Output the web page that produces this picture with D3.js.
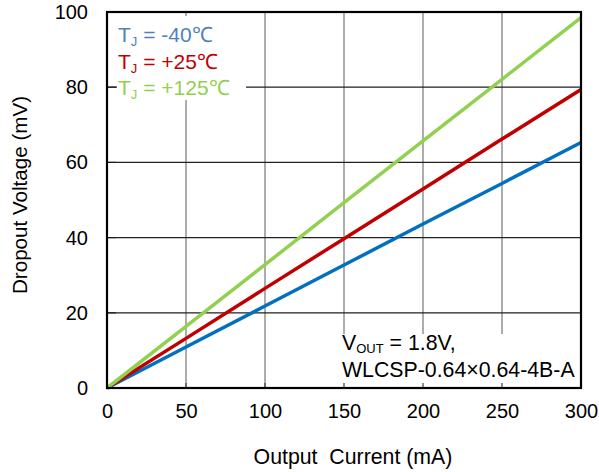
<!DOCTYPE html>
<html>
<head>
<meta charset="utf-8">
<script src="https://cdn.jsdelivr.net/npm/d3@7"></script>
<style>
body { margin: 0; background: #fff; }
text { font-family: "Liberation Sans", Arial, sans-serif; }
</style>
</head>
<body>
<div id="chart"></div>
<script>
var current = [0, 50, 100, 150, 200, 250, 300];
var vMinus40 = [0, 10.9, 21.8, 32.7, 43.6, 54.4, 65.3];
var vPlus25 = [0, 13.2, 26.5, 39.7, 52.9, 66.2, 79.4];
var vPlus125 = [0, 16.4, 32.8, 49.3, 65.7, 82.1, 98.5];
var xTicks = [0, 50, 100, 150, 200, 250, 300];
var yTicks = [0, 20, 40, 60, 80, 100];

var width = 599, height = 472;
var margin = {left: 107, right: 18, top: 12, bottom: 84};

var svg = d3.select("#chart")
  .append("svg")
  .attr("width", width)
  .attr("height", height);

var x = d3.scaleLinear().domain([0, 300]).range([margin.left, width - margin.right]);
var y = d3.scaleLinear().domain([0, 100]).range([height - margin.bottom, margin.top]);

// grid
svg.selectAll(".vgrid").data(xTicks.slice(1, -1)).enter()
  .append("line")
  .attr("x1", d => x(d)).attr("x2", d => x(d))
  .attr("y1", y(0)).attr("y2", y(100))
  .attr("stroke", "#808080").attr("stroke-width", 1.3);

svg.selectAll(".hgrid").data(yTicks.slice(1, -1)).enter()
  .append("line")
  .attr("x1", x(0)).attr("x2", x(300))
  .attr("y1", d => y(d)).attr("y2", d => y(d))
  .attr("stroke", "#202020").attr("stroke-width", 1.2);

// white boxes behind the texts
svg.append("rect").attr("x", 117).attr("y", 16).attr("width", 129).attr("height", 84).attr("fill", "#fff");
svg.append("rect").attr("x", 336).attr("y", 334).attr("width", 244).attr("height", 53).attr("fill", "#fff");

// inward tick marks
svg.selectAll(".xt").data(xTicks).enter()
  .append("line")
  .attr("x1", d => x(d)).attr("x2", d => x(d))
  .attr("y1", y(0)).attr("y2", y(0) - 5)
  .attr("stroke", "#404040").attr("stroke-width", 1.2);
svg.selectAll(".yt").data(yTicks).enter()
  .append("line")
  .attr("x1", x(0)).attr("x2", x(0) + 9)
  .attr("y1", d => y(d)).attr("y2", d => y(d))
  .attr("stroke", "#202020").attr("stroke-width", 1.2);

// lines
var line = d3.line().x((d, i) => x(current[i])).y(d => y(d));
var series = [
  {v: vMinus40, c: "#0070C0"},
  {v: vPlus25, c: "#C00000"},
  {v: vPlus125, c: "#92D050"}
];
series.forEach(function(s) {
  svg.append("path").datum(s.v)
    .attr("d", line)
    .attr("fill", "none")
    .attr("stroke", s.c)
    .attr("stroke-width", 3.5);
});

// frame
svg.append("rect")
  .attr("x", x(0)).attr("y", y(100))
  .attr("width", x(300) - x(0)).attr("height", y(0) - y(100))
  .attr("fill", "none").attr("stroke", "#000").attr("stroke-width", 2.2);

// axes
var xAxis = d3.axisBottom(x).tickValues(xTicks).tickSize(0).tickPadding(10);
var gx = svg.append("g").attr("transform", "translate(0," + y(0) + ")").call(xAxis);
gx.select(".domain").remove();
gx.selectAll("text").attr("font-size", 20).attr("fill", "#000").attr("dy", "0.71em").attr("y", 16);

var yAxis = d3.axisLeft(y).tickValues(yTicks).tickSize(0).tickPadding(18);
var gy = svg.append("g").attr("transform", "translate(" + x(0) + ",0)").call(yAxis);
gy.select(".domain").remove();
gy.selectAll("text").attr("font-size", 20).attr("fill", "#000").attr("x", -19);

svg.append("text")
  .attr("x", 353).attr("y", 464)
  .attr("text-anchor", "middle").attr("font-size", 21.3)
  .attr("xml:space", "preserve")
  .text("Output  Current (mA)");

svg.append("text")
  .attr("transform", "translate(27,195) rotate(-90)")
  .attr("text-anchor", "middle").attr("font-size", 20.6)
  .text("Dropout Voltage (mV)");

// legend
var legend = [
  {t: " = -40\u2103", c: "#4F81BD"},
  {t: " = +25\u2103", c: "#C00000"},
  {t: " = +125\u2103", c: "#92D050"}
];
legend.forEach(function(l, i) {
  var t = svg.append("text")
    .attr("x", 118).attr("y", 42 + i * 26.5)
    .attr("font-size", 21).attr("fill", l.c);
  t.append("tspan").text("T");
  t.append("tspan").attr("font-size", 13).attr("dy", 4).text("J");
  t.append("tspan").attr("dy", -4).text(l.t);
});

// annotation
var a = svg.append("text").attr("x", 342).attr("y", 350).attr("font-size", 21.3);
a.append("tspan").text("V");
a.append("tspan").attr("font-size", 13).attr("dy", 3).text("OUT");
a.append("tspan").attr("dy", -3).text(" = 1.8V,");
svg.append("text").attr("x", 342).attr("y", 377).attr("font-size", 21.3)
  .text("WLCSP-0.64\u00d70.64-4B-A");
</script>
</body>
</html>
